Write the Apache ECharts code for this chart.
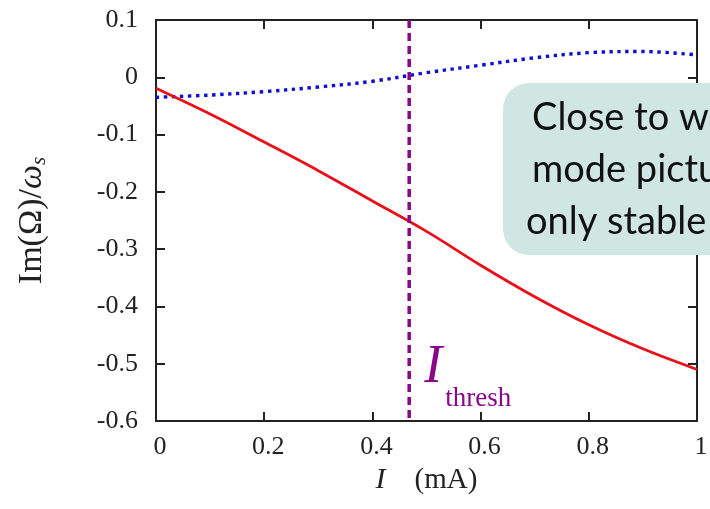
<!DOCTYPE html>
<html><head><meta charset="utf-8">
<script src="https://cdn.jsdelivr.net/npm/echarts@6/dist/echarts.min.js"></script>
<style>html,body{margin:0;padding:0;background:#fff}#c{width:710px;height:509px}</style>
</head><body><div id="c"></div>
<script>
// ---- data ----
const currents   = [0, 0.1, 0.2, 0.3, 0.4, 0.5, 0.6, 0.7, 0.8, 0.9, 1.0];
const stableMode = [-0.019, -0.064, -0.113, -0.163, -0.216, -0.269, -0.328, -0.383, -0.432, -0.474, -0.510];
const otherMode  = [-0.035, -0.031, -0.025, -0.017, -0.007, 0.008, 0.021, 0.034, 0.043, 0.045, 0.039];
const threshold  = [0.468];
const xRange = [0, 1];
const yRange = [-0.6, 0.1];
const calloutLines = ['Close to w', 'mode pictu', 'only stable'];
const threshLabel = ['I', 'thresh'];

const serif = '"Liberation Serif", "DejaVu Serif", serif';
const axisColor = '#222';

function fmt(v) {
  if (Math.abs(v) < 1e-9) return '0';
  if (Math.abs(v - 1) < 1e-9) return '1';
  return v.toFixed(1);
}

const chart = echarts.init(document.getElementById('c'), null, {renderer: 'canvas'});

const baseAxis = {
  type: 'value',
  splitLine: {show: false},
  axisLine: {show: true, onZero: false, lineStyle: {color: axisColor, width: 2}},
  axisTick: {show: true, inside: true, length: 9, lineStyle: {color: axisColor, width: 2}},
};

chart.setOption({
  animation: false,
  backgroundColor: '#fff',
  grid: {left: 156, top: 20, right: 13, bottom: 88, outerBoundsMode: 'none', containLabel: false},
  xAxis: [
    Object.assign({}, baseAxis, {
      min: xRange[0], max: xRange[1], interval: 0.2, position: 'bottom',
      axisLabel: {formatter: fmt, fontFamily: serif, fontSize: 26, color: '#222', margin: 13, padding: [0, 0, 0, 8]},
      name: '{i|I}    (mA)', nameLocation: 'middle', nameGap: 42,
      nameTextStyle: {fontFamily: serif, fontSize: 29, color: '#222',
        rich: {i: {fontFamily: serif, fontStyle: 'italic', fontSize: 30, color: '#222'}}}
    }),
    Object.assign({}, baseAxis, {
      min: xRange[0], max: xRange[1], interval: 0.2, position: 'top',
      axisLabel: {show: false}
    })
  ],
  yAxis: [
    Object.assign({}, baseAxis, {
      min: yRange[0], max: yRange[1], interval: 0.1, position: 'left',
      axisLabel: {formatter: fmt, fontFamily: serif, fontSize: 26, color: '#222', margin: 18},
      name: '{n|Im(Ω)/}{w|ω}{s|s}', nameLocation: 'middle', nameGap: 106,
      nameTextStyle: {fontFamily: serif, fontSize: 34, color: '#222',
        rich: {
          n: {fontFamily: serif, fontSize: 34, color: '#222'},
          w: {fontFamily: serif, fontStyle: 'italic', fontSize: 34, color: '#222'},
          s: {fontFamily: serif, fontStyle: 'italic', fontSize: 21, color: '#222', verticalAlign: 'bottom', padding: [14, 0, 0, 0]}
        }}
    }),
    Object.assign({}, baseAxis, {
      min: yRange[0], max: yRange[1], interval: 0.1, position: 'right',
      axisLabel: {show: false}
    })
  ],
  series: [
    {
      type: 'line', xAxisIndex: 0, yAxisIndex: 0, symbol: 'none', smooth: 0.35,
      data: currents.map((x, i) => [x, otherMode[i]]),
      lineStyle: {color: '#1010d0', width: 3.4, type: [3.4, 4.6], cap: 'butt'}, z: 3
    },
    {
      type: 'line', xAxisIndex: 0, yAxisIndex: 0, symbol: 'none', smooth: 0.35,
      data: currents.map((x, i) => [x, stableMode[i]]),
      lineStyle: {color: '#e8111a', width: 2.8}, z: 4
    },
    {
      type: 'line', xAxisIndex: 0, yAxisIndex: 0, symbol: 'none',
      data: [[threshold[0], yRange[1]], [threshold[0], yRange[0]]],
      lineStyle: {color: '#8a068a', width: 3.5, type: [8, 5], cap: 'butt'}, z: 5
    }
  ]
});

const tx = chart.convertToPixel({xAxisIndex: 0}, threshold[0]);
const g = [
  {type: 'rect', z: 100, shape: {x: 503, y: 83, width: 300, height: 172, r: 26}, style: {fill: '#d0e6e3'}},
];
const lineY = [118, 170, 222];
const lineX = [532, 532, 526];
calloutLines.forEach((t, i) => {
  g.push({type: 'text', z: 101, x: lineX[i], y: lineY[i],
    style: {text: t, font: '38px Lato, "Open Sans", sans-serif', fill: '#111', verticalAlign: 'middle', align: 'left'}});
});
g.push({type: 'text', z: 101, x: tx + 15, y: 395,
  style: {text: threshLabel[0], font: 'italic 54px "Liberation Serif", serif', fill: '#8a068a', verticalAlign: 'bottom', align: 'left'}});
g.push({type: 'text', z: 101, x: tx + 36, y: 412,
  style: {text: threshLabel[1], font: '27px "Liberation Serif", serif', fill: '#8a068a', verticalAlign: 'bottom', align: 'left'}});
chart.setOption({graphic: g});
</script>
</body></html>
